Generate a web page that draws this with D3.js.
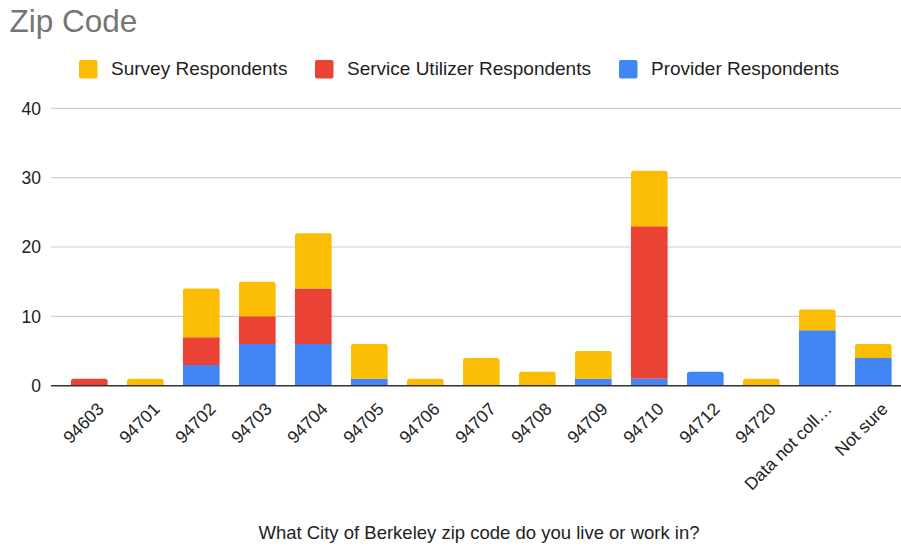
<!DOCTYPE html>
<html>
<head>
<meta charset="utf-8">
<script src="https://cdn.jsdelivr.net/npm/d3@7"></script>
<style>
  html, body { margin: 0; padding: 0; background: #fff; }
  svg { display: block; font-family: "Liberation Sans", Arial, sans-serif; }
</style>
</head>
<body>
<svg id="chart" width="901" height="546"></svg>
<script>
// Respondent counts per zip code, stacked bottom-to-top: provider, service utilizer, survey
const categories = ["94603", "94701", "94702", "94703", "94704", "94705", "94706", "94707",
  "94708", "94709", "94710", "94712", "94720", "Data not coll…", "Not sure"];
const providerRespondents = [0, 0, 3, 6, 6, 1, 0, 0, 0, 1, 1, 2, 0, 8, 4];
const serviceUtilizerRespondents = [1, 0, 4, 4, 8, 0, 0, 0, 0, 0, 22, 0, 0, 0, 0];
const surveyRespondents = [0, 1, 7, 5, 8, 5, 1, 4, 2, 4, 8, 0, 1, 3, 2];
const yTicks = [0, 10, 20, 30, 40];

const series = [
  { key: "provider", name: "Provider Respondents", values: providerRespondents, color: "#4285f4" },
  { key: "service", name: "Service Utilizer Respondents", values: serviceUtilizerRespondents, color: "#ea4335" },
  { key: "survey", name: "Survey Respondents", values: surveyRespondents, color: "#fbbc04" }
];
const legendOrder = ["survey", "service", "provider"];

const svg = d3.select("#chart");

const plotLeft = 51, plotRight = 901, plotTop = 108.3, plotBottom = 385.7;

const x = d3.scaleBand().domain(categories).range([61.3, 901.3]).paddingInner(0.345).paddingOuter(0.1725);
const y = d3.scaleLinear().domain([0, 40]).range([plotBottom, plotTop]);

// Title
svg.append("text").attr("x", 9.5).attr("y", 32)
  .attr("font-size", 31.5).attr("fill", "#757575").text("Zip Code");

// Legend
const legendPos = { survey: 79, service: 315, provider: 619 };
legendOrder.forEach(k => {
  const s = series.find(d => d.key === k);
  const g = svg.append("g").attr("transform", `translate(${legendPos[k]},60)`);
  g.append("rect").attr("width", 18.5).attr("height", 18.5).attr("rx", 2).attr("fill", s.color);
  g.append("text").attr("x", 32).attr("y", 15.3).attr("font-size", 19).attr("fill", "#222").text(s.name);
});

// Gridlines and y tick labels
const grid = svg.append("g");
yTicks.forEach(t => {
  if (t !== 0) {
    grid.append("line").attr("x1", plotLeft).attr("x2", plotRight)
      .attr("y1", y(t)).attr("y2", y(t)).attr("stroke", "#d0d0d0").attr("stroke-width", 1.2);
  }
  grid.append("text").attr("x", 41).attr("y", y(t)).attr("dy", "0.36em")
    .attr("text-anchor", "end").attr("font-size", 17.5).attr("fill", "#222").text(t);
});

// Stacked bars
const rows = categories.map((c, i) => {
  const r = { category: c };
  series.forEach(s => r[s.key] = s.values[i]);
  return r;
});
const stack = d3.stack().keys(series.map(s => s.key));
const stacked = stack(rows);

// Index of the topmost non-empty segment in each column
const topIndex = rows.map(r => {
  let t = -1;
  series.forEach((s, j) => { if (r[s.key] > 0) t = j; });
  return t;
});

function barPath(x0, y0, w, h, r) {
  if (h <= 0) return "";
  r = Math.min(r, h, w / 2);
  return `M${x0},${y0 + h}V${y0 + r}Q${x0},${y0} ${x0 + r},${y0}H${x0 + w - r}Q${x0 + w},${y0} ${x0 + w},${y0 + r}V${y0 + h}Z`;
}

stacked.forEach((layer, j) => {
  const s = series[j];
  svg.append("g").selectAll("path").data(layer).join("path")
    .attr("fill", s.color)
    .attr("d", (d, i) => {
      const x0 = x(categories[i]);
      const y0 = y(d[1]);
      const h = y(d[0]) - y(d[1]);
      return barPath(x0, y0, x.bandwidth(), h, topIndex[i] === j ? 2.5 : 0);
    });
});

// Baseline
svg.append("line").attr("x1", plotLeft).attr("x2", plotRight)
  .attr("y1", plotBottom).attr("y2", plotBottom).attr("stroke", "#333").attr("stroke-width", 1.5);

// Rotated category labels
svg.append("g").selectAll("text").data(categories).join("text")
  .attr("transform", d => `translate(${x(d) + x.bandwidth() / 2 + 15.5},${plotBottom + 24.5}) rotate(-45)`)
  .attr("text-anchor", "end")
  .attr("font-size", 17.5).attr("fill", "#222").text(d => d);

// X axis title
svg.append("text").attr("x", 479).attr("y", 539).attr("text-anchor", "middle")
  .attr("font-size", 18.5).attr("fill", "#222").text("What City of Berkeley zip code do you live or work in?");
</script>
</body>
</html>
